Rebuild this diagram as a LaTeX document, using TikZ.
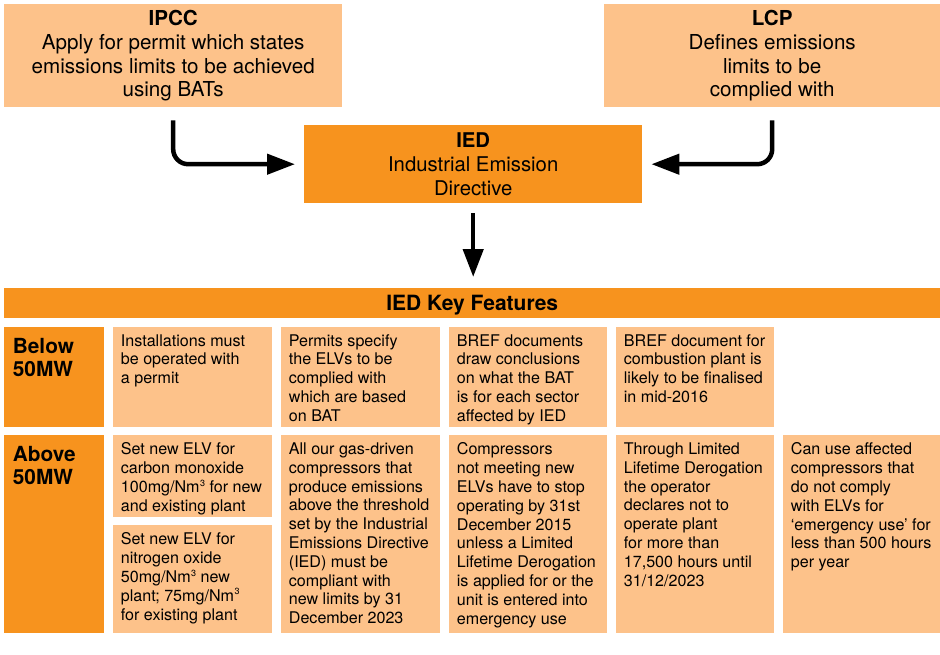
\documentclass[tikz,border=0pt]{standalone}
\usepackage{fontspec}
\setmainfont{TeX Gyre Heros}
\usepackage{xcolor}
\usepackage{tikz}
\usetikzlibrary{arrows.meta, positioning}
\definecolor{iedorange}{HTML}{F7931E}
\definecolor{iedpeach}{HTML}{FDC28A}
\tikzset{
    featurediagram/.style={x=1pt, y=-1pt, >={Triangle[length=28pt, width=20pt]}},
    topbox/.style={fill=iedpeach, anchor=north west, minimum width=338pt, minimum height=103pt,
        inner sep=0pt, align=center, font=\fontsize{20.6}{23.9}\selectfont},
    mainbox/.style={fill=iedorange, anchor=north west, minimum width=338pt, minimum height=78pt,
        inner sep=0pt, align=center, font=\fontsize{20.3}{24}\selectfont},
    headbar/.style={fill=iedorange, anchor=north west, minimum width=936pt, minimum height=30pt,
        inner sep=0pt, text depth=0pt, font=\bfseries\fontsize{21}{23}\selectfont},
    cell/.style={fill=iedpeach, anchor=north west, inner sep=0pt},
    sizecell/.style={fill=iedorange, anchor=north west, inner sep=0pt, minimum width=100pt},
    celltext/.style={anchor=north west, inner sep=0pt, align=left, font=\fontsize{16.1}{18.8}\selectfont},
    sizetext/.style={anchor=north west, inner sep=0pt, align=left, font=\bfseries\fontsize{20.8}{23}\selectfont},
    flow/.style={->, line width=4.5pt, rounded corners=15pt},
}
% small raised cube sign for Nm3
\newcommand{\cubed}{\kern0.5pt\raisebox{0.75ex}{\fontsize{9}{9}\selectfont 3}}
% one feature cell: name, x, y, width, height, text
\newcommand{\featurecell}[6]{%
    \node[cell, minimum width=#4pt, minimum height=#5pt] (#1) at (#2,#3) {};
    \node[celltext] (#1text) at ([xshift=7.7pt, yshift=-7.6pt]#1.north west) {#6};
}

\begin{document}
\begin{tikzpicture}[featurediagram]
    \useasboundingbox (0,0) rectangle (940,654);

    \node[topbox] (ipcc) at (4,4) {\textbf{IPCC}\\Apply for permit which states\\emissions limits to be achieved\\using BATs};
    \node[topbox, minimum width=336pt] (lcp) at (604,4) {\textbf{LCP}\\Defines emissions\\limits to be\\complied with};
    \node[mainbox] (ied) at (304,125) {\textbf{IED}\\Industrial Emission\\Directive};

    \draw[flow] ([yshift=-13pt]ipcc.south) |- ([xshift=-9pt]ied.west);
    \draw[flow] ([yshift=-13pt]lcp.south) |- ([xshift=9pt]ied.east);

    \node[headbar] (header) at (4,288) {IED Key Features};
    \draw[flow] ([yshift=-10pt]ied.south) -- ([yshift=11pt]ied.south |- header.north);

    % size classes
    \node[sizecell, minimum height=100pt] (below) at (4,326.5) {};
    \node[sizetext] (belowtext) at ([xshift=8.7pt, yshift=-11.6pt]below.north west) {Below\\50MW};
    \node[sizecell, minimum height=198pt] (above) at (4,435) {};
    \node[sizetext] (abovetext) at ([xshift=8.7pt, yshift=-11.6pt]above.north west) {Above\\50MW};

    % below 50MW
    \featurecell{permit}{113}{326.5}{159}{100}{Installations must\\be operated with\\a permit}
    \featurecell{elvs}{281}{326.5}{159}{100}{Permits specify\\the ELVs to be\\complied with\\which are based\\on BAT}
    \featurecell{bref}{449}{326.5}{158}{100}{BREF documents\\draw conclusions\\on what the BAT\\is for each sector\\affected by IED}
    \featurecell{brefcomb}{616}{326.5}{158}{100}{BREF document for\\combustion plant is\\likely to be finalised\\in mid-2016}

    % above 50MW
    \featurecell{carbon}{113}{435}{159}{82}{Set new ELV for\\carbon monoxide\\100mg/Nm\cubed{} for new\\and existing plant}
    \featurecell{nitrogen}{113}{525}{159}{108}{Set new ELV for\\nitrogen oxide\\50mg/Nm\cubed{} new\\plant; 75mg/Nm\cubed\\for existing plant}
    \featurecell{gasdriven}{281}{435}{159}{198}{All our gas-driven\\compressors that\\produce emissions\\above the threshold\\set by the Industrial\\Emissions Directive\\(IED) must be\\compliant with\\new limits by 31\\December 2023}
    \featurecell{stop}{449}{435}{158}{198}{Compressors\\not meeting new\\ELVs have to stop\\operating by 31st\\December 2015\\unless a Limited\\Lifetime Derogation\\is applied for or the\\unit is entered into\\emergency use}
    \featurecell{derogation}{616}{435}{158}{198}{Through Limited\\Lifetime Derogation\\the operator\\declares not to\\operate plant\\for more than\\17,500 hours until\\31/12/2023}
    \featurecell{emergency}{783}{435}{157}{198}{Can use affected\\compressors that\\do not comply\\with ELVs for\\‘emergency use’ for\\less than 500 hours\\per year}
\end{tikzpicture}
\end{document}
